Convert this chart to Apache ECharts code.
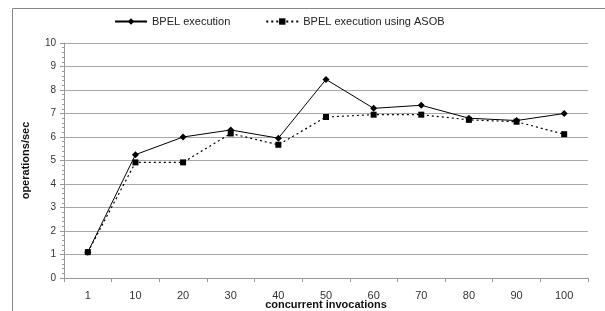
<!DOCTYPE html>
<html>
<head>
<meta charset="utf-8">
<script src="https://cdn.jsdelivr.net/npm/echarts@6/dist/echarts.min.js"></script>
<style>
  html, body { margin: 0; padding: 0; background: #fff; }
  #chart { width: 605px; height: 311px; }
</style>
</head>
<body>
<div id="chart"></div>
<script>
// data
const invocations = ['1', '10', '20', '30', '40', '50', '60', '70', '80', '90', '100'];
const bpelExecution = [1.1, 5.25, 6.0, 6.3, 5.95, 8.45, 7.22, 7.35, 6.8, 6.7, 7.0];
const bpelAsob = [1.1, 4.92, 4.92, 6.15, 5.67, 6.85, 6.95, 6.95, 6.73, 6.65, 6.12];
const yTicks = [0, 10, 1]; // min, max, step

const chart = echarts.init(document.getElementById('chart'));

const font = 'Liberation Sans, Arial, sans-serif';

chart.setOption({
  animation: false,
  textStyle: { fontFamily: font },
  graphic: [{
    type: 'rect',
    shape: { x: 12.5, y: 8.5, width: 620, height: 320 },
    style: { fill: 'none', stroke: '#888', lineWidth: 1 },
    silent: true
  }],
  legend: {
    left: 109,
    top: 11,
    itemWidth: 32,
    itemHeight: 8,
    itemGap: 35,
    textStyle: { fontSize: 11, color: '#222', fontFamily: font },
    data: ['BPEL execution', 'BPEL execution using ASOB']
  },
  grid: { left: 64, right: 17, top: 43, bottom: 33, outerBoundsMode: 'none' },
  xAxis: {
    type: 'category',
    data: invocations,
    boundaryGap: true,
    name: 'concurrent invocations',
    nameLocation: 'middle',
    nameGap: 21,
    nameMoveOverlap: false,
    nameTextStyle: { fontWeight: 'bold', fontSize: 11, color: '#111' },
    axisLine: { lineStyle: { color: '#999' } },
    axisTick: { show: true, length: 4, lineStyle: { color: '#999' } },
    axisLabel: { fontSize: 11, color: '#333', margin: 12 },
    splitLine: { show: false }
  },
  yAxis: {
    type: 'value',
    min: yTicks[0],
    max: yTicks[1],
    interval: yTicks[2],
    name: 'operations/sec',
    nameLocation: 'middle',
    nameGap: 33,
    nameMoveOverlap: false,
    nameRotate: 90,
    nameTextStyle: { fontWeight: 'bold', fontSize: 11, color: '#111' },
    axisLine: { show: true, lineStyle: { color: '#999' } },
    axisTick: { show: true, length: 4, lineStyle: { color: '#999' } },
    minorTick: { show: true, splitNumber: 5, length: 2, lineStyle: { color: '#999' } },
    axisLabel: { fontSize: 10, color: '#333', margin: 8 },
    splitLine: { lineStyle: { color: '#a8a8a8', width: 1 } }
  },
  series: [
    {
      name: 'BPEL execution',
      type: 'line',
      data: bpelExecution,
      symbol: 'diamond',
      symbolSize: 7,
      itemStyle: { color: '#000' },
      lineStyle: { color: '#000', width: 1 }
    },
    {
      name: 'BPEL execution using ASOB',
      type: 'line',
      data: bpelAsob,
      symbol: 'rect',
      symbolSize: 6,
      itemStyle: { color: '#000' },
      lineStyle: { color: '#000', width: 1.2, type: [2, 3] }
    }
  ]
});
</script>
</body>
</html>
